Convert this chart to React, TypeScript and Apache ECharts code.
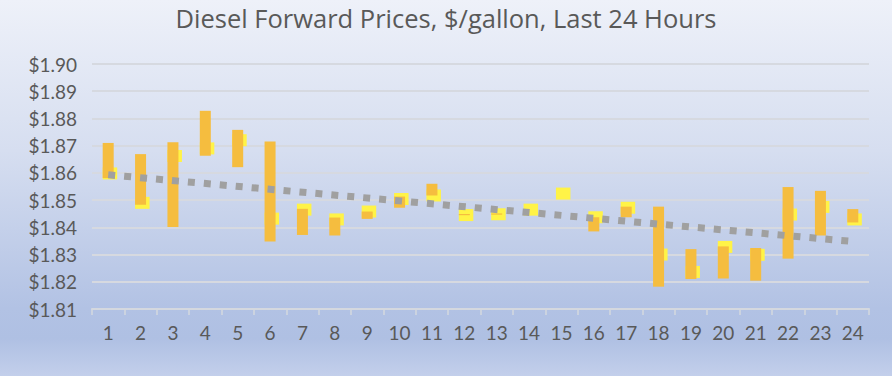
import React, { useEffect, useRef } from "react";
import * as echarts from "echarts";

const categories = ["1","2","3","4","5","6","7","8","9","10","11","12","13","14","15","16","17","18","19","20","21","22","23","24"];
const highs = [1.8710, 1.8669, 1.8713, 1.8828, 1.8758, 1.8715, 1.8468, 1.8436, 1.8458, 1.8513, 1.8560, 1.8449, 1.8451, 1.8465, 1.8524, 1.8437, 1.8476, 1.8476, 1.8320, 1.8330, 1.8324, 1.8548, 1.8534, 1.8467];
const lows = [1.8581, 1.8483, 1.8401, 1.8663, 1.8621, 1.8348, 1.8372, 1.8370, 1.8431, 1.8472, 1.8517, 1.8446, 1.8448, 1.8465, 1.8524, 1.8385, 1.8437, 1.8182, 1.8210, 1.8212, 1.8204, 1.8285, 1.8370, 1.8418];
const closes = [1.8598, 1.8490, 1.8662, 1.8690, 1.8720, 1.8432, 1.8465, 1.8429, 1.8458, 1.8504, 1.8517, 1.8445, 1.8448, 1.8465, 1.8524, 1.8437, 1.8472, 1.8300, 1.8236, 1.8328, 1.8299, 1.8447, 1.8475, 1.8429];
const trendStart = 1.8593;
const trendEnd = 1.8348;

const FONT = "Lato";

export default function App() {
  const ref = useRef<HTMLDivElement>(null);
  useEffect(() => {
    document.body.style.margin = "0";
    const chart = echarts.init(ref.current!, undefined, { renderer: "svg" });
    const data = categories.map((_, i) => [i, highs[i], lows[i], closes[i]]);
    chart.setOption({
      animation: false,
      title: {
        text: "Diesel Forward Prices, $/gallon, Last 24 Hours",
        left: "center",
        top: 0,
        textStyle: { fontFamily: "Open Sans", fontSize: 25.5, fontWeight: "normal", color: "#595959" },
      },
      grid: { left: 92, right: 23, top: 64, bottom: 67 },
      xAxis: {
        type: "category",
        data: categories,
        boundaryGap: true,
        axisLine: { show: true, lineStyle: { color: "#D4D8DF", width: 2 } },
        axisTick: { show: true, length: 6, lineStyle: { color: "#D4D8DF", width: 1.5 } },
        axisLabel: { fontFamily: FONT, fontSize: 19, color: "#595959", margin: 14 },
      },
      yAxis: {
        type: "value",
        min: 1.81,
        max: 1.9,
        interval: 0.01,
        axisLine: { show: false },
        axisTick: { show: false },
        splitLine: { lineStyle: { color: "#D6D9E0", width: 2 } },
        axisLabel: {
          fontFamily: FONT,
          fontSize: 19,
          color: "#595959",
          margin: 15,
          formatter: (v: number) => "$" + v.toFixed(2),
        },
      },
      series: [
        {
          type: "custom",
          data,
          z: 2,
          renderItem: (params: any, api: any) => {
            const idx = api.value(0);
            const hi = api.coord([idx, api.value(1)]);
            const lo = api.coord([idx, api.value(2)]);
            const cl = api.coord([idx, api.value(3)]);
            const cx = hi[0];
            const children: any[] = [
              {
                type: "rect",
                shape: { x: cx - 5.5, y: cl[1] - 6, width: 14.5, height: 12 },
                style: { fill: "#FFF347" },
              },
            ];
            const h = lo[1] - hi[1];
            if (h > 0) {
              children.push({
                type: "rect",
                shape: { x: cx - 5.5, y: hi[1], width: 11, height: Math.max(h, 1.2) },
                style: { fill: "#F5BD3F" },
              });
            }
            return { type: "group", children };
          },
        },
        {
          type: "line",
          data: [[0, trendStart], [categories.length - 1, trendEnd]],
          symbol: "none",
          z: 3,
          lineStyle: { color: "#A0A0A0", width: 7, type: [7, 9], cap: "butt" },
        },
      ],
    });
    return () => chart.dispose();
  }, []);
  return (
    <div
      ref={ref}
      style={{
        width: 892,
        height: 376,
        background: "linear-gradient(to bottom, #EEF1F9 0%, #D6DEF0 40%, #B2C2E4 82%, #AFC0E3 90%, #C3CFEB 100%)",
      }}
    />
  );
}
